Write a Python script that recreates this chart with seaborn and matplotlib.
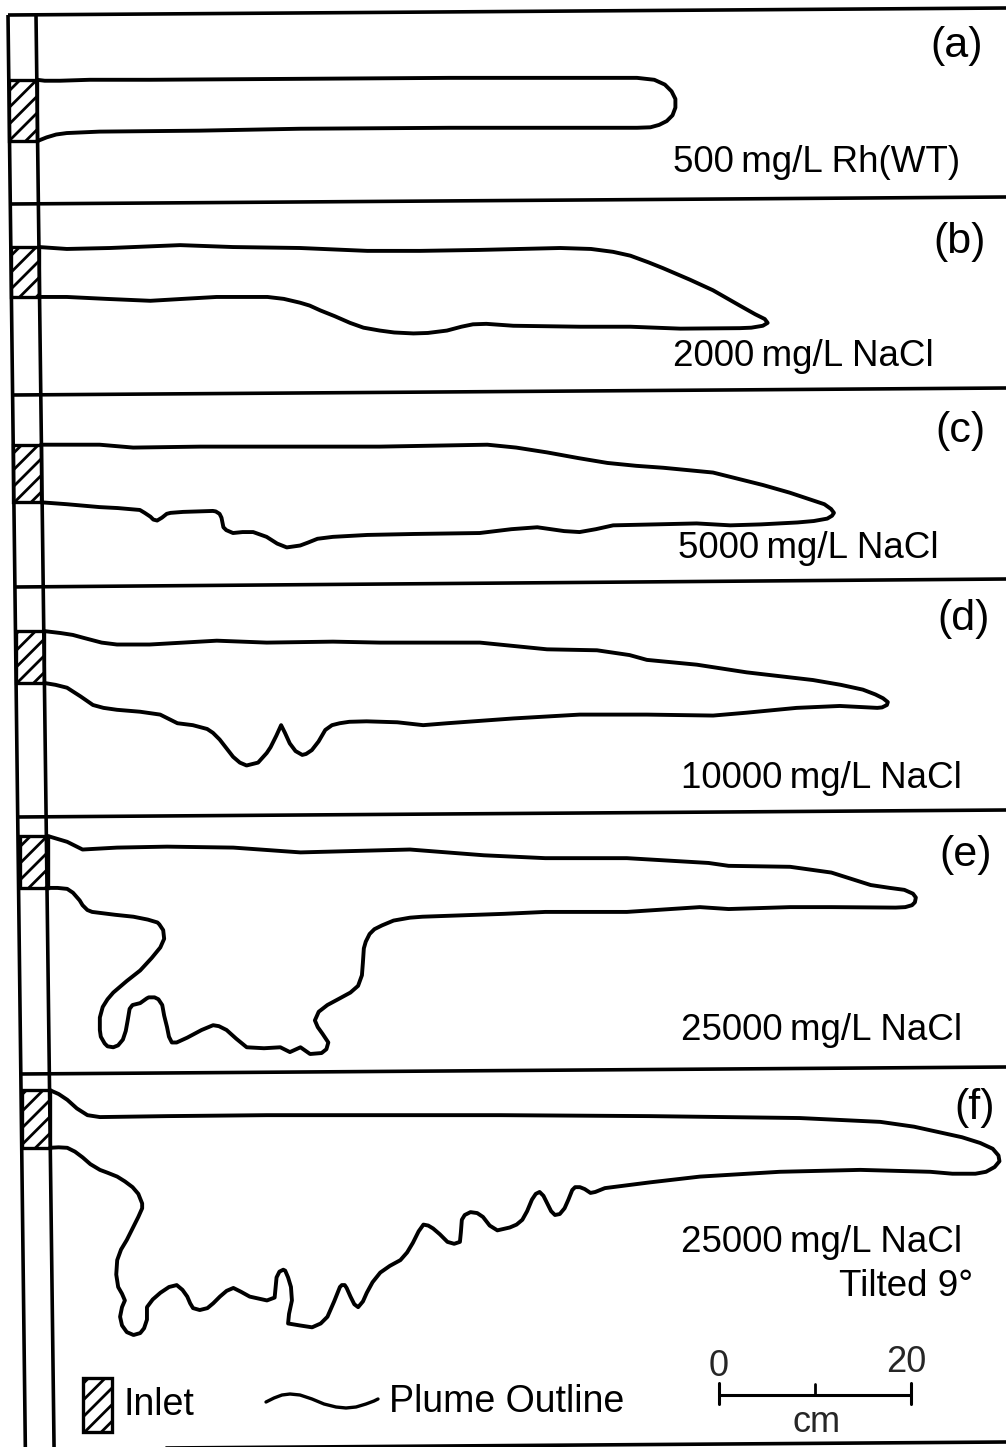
import numpy as np
import pandas as pd
import matplotlib
matplotlib.use("Agg")
import matplotlib.pyplot as plt
from matplotlib.patches import Rectangle
import seaborn as sns

# ---------------- data (cm): x = distance from inlet, y = depth below inlet centre ----------------
panel_letters = ["(a)", "(b)", "(c)", "(d)", "(e)", "(f)"]
panel_labels = ["500\u2009mg/L Rh(WT)", "2000\u2009mg/L NaCl", "5000\u2009mg/L NaCl",
                "10000\u2009mg/L NaCl", "25000\u2009mg/L NaCl", "25000\u2009mg/L NaCl"]
tilt_label = "Tilted 9°"
inlet_half_height = [3.2, 2.6, 3.0, 2.7, 2.7, 3.0]
inlet_width = 2.9

plume_a_x = [0.0, 0.8, 2.4, 5.5, 11.8, 27.4, 43.0, 58.6, 62.5, 64.3, 65.4, 66.1, 66.5, 66.5,
             66.2, 65.6, 64.8, 63.9, 62.5, 58.6, 43.0, 27.4, 16.9, 6.5, 3.1, 2.0, 1.0, 0.0]
plume_a_y = [-3.2, -3.1, -3.1, -3.2, -3.2, -3.3, -3.4, -3.4, -3.4, -3.2, -2.7, -2.0, -1.2, -0.3,
             0.5, 1.1, 1.5, 1.75, 1.8, 1.8, 1.8, 1.9, 2.1, 2.2, 2.35, 2.5, 2.8, 3.2]

plume_b_x = [0.0, 2.9, 7.4, 14.7, 20.2, 27.2, 34.2, 39.7, 45.9, 54.3, 57.5, 59.8, 61.6, 63.5,
             65.0, 67.8, 70.2, 73.0, 74.6, 75.6, 75.9, 75.4, 74.2, 73.0, 66.8, 61.6, 56.4, 49.4,
             46.6, 45.2, 44.0, 42.5, 40.5, 39.0, 37.0, 35.5, 33.8, 32.4, 30.8, 29.3, 28.2, 27.2,
             25.5, 23.8, 18.5, 15.0, 11.6, 7.0, 2.9, 0.0]
plume_b_y = [-2.6, -2.4, -2.5, -2.8, -2.6, -2.5, -2.2, -2.2, -2.3, -2.5, -2.4, -2.1, -1.7, -1.0,
             -0.4, 0.8, 1.9, 3.5, 4.4, 4.9, 5.3, 5.6, 5.8, 5.85, 5.9, 5.7, 5.7, 5.6,
             5.4, 5.45, 5.7, 6.1, 6.35, 6.4, 6.3, 6.1, 5.8, 5.3, 4.6, 4.0, 3.5, 3.2,
             2.8, 2.6, 2.6, 2.8, 3.0, 2.8, 2.6, 2.6]

plume_c_x = [0.0, 6.1, 9.6, 16.6, 27.0, 35.3, 46.5, 49.5, 52.7, 56.0, 59.0, 62.0, 64.8, 70.0,
             75.2, 78.0, 80.4, 81.6, 82.3, 82.6, 82.4, 81.9, 80.5, 78.8, 75.0, 71.8, 68.3, 64.0,
             59.6, 57.8, 56.1, 54.5, 51.7, 49.0, 45.7, 38.8, 34.0, 30.4, 28.8, 27.8, 27.0, 25.6,
             24.6, 23.5, 22.1, 21.0, 20.0, 19.3, 19.0, 18.8, 18.6, 18.2, 17.9, 14.8, 13.5, 13.1,
             12.6, 12.1, 11.7, 11.4, 10.8, 10.3, 8.0, 6.1, 2.7, 0.0]
plume_c_y = [-3.0, -3.0, -2.7, -2.8, -2.8, -2.8, -3.0, -2.7, -2.2, -1.6, -1.1, -0.8, -0.6, -0.1,
             1.2, 2.0, 2.8, 3.2, 3.7, 4.1, 4.4, 4.7, 4.95, 5.1, 5.3, 5.4, 5.2, 5.3,
             5.4, 5.8, 6.1, 6.0, 5.6, 5.8, 6.2, 6.3, 6.4, 6.6, 6.8, 7.2, 7.5, 7.7,
             7.3, 6.6, 6.1, 6.1, 6.2, 5.9, 5.6, 4.6, 4.2, 3.95, 3.9, 4.0, 4.1, 4.2,
             4.6, 4.9, 4.8, 4.5, 4.1, 3.8, 3.6, 3.5, 3.2, 3.0]

plume_d_x = [0.0, 1.7, 3.0, 4.1, 6.0, 7.6, 11.0, 18.0, 23.2, 30.1, 35.0, 45.4, 52.4, 57.6,
             61.0, 62.8, 68.0, 73.2, 80.1, 83.0, 85.3, 86.6, 87.4, 87.9, 87.8, 87.3, 86.8, 82.9,
             78.4, 73.2, 69.7, 62.8, 55.8, 48.9, 42.0, 39.5, 36.8, 33.6, 31.8, 30.8, 30.0, 29.3,
             28.6, 27.9, 27.3, 26.9, 26.2, 25.6, 25.1, 24.7, 24.2, 23.6, 23.2, 22.3, 21.1, 20.4,
             19.7, 19.0, 18.3, 17.6, 17.0, 15.5, 13.9, 12.9, 12.1, 10.0, 7.6, 6.2, 5.1, 3.8,
             2.4, 1.2, 0.0]
plume_d_y = [-2.7, -2.5, -2.3, -2.0, -1.5, -1.3, -1.3, -1.7, -1.5, -1.6, -1.5, -1.5, -0.8, -0.7,
             -0.2, 0.3, 0.8, 1.6, 2.4, 2.9, 3.4, 3.9, 4.3, 4.7, 5.0, 5.25, 5.3, 5.1,
             5.3, 5.8, 6.1, 6.0, 6.0, 6.4, 6.9, 7.1, 6.8, 6.7, 6.75, 6.9, 7.1, 7.6,
             8.8, 9.7, 10.1, 10.2, 9.8, 9.0, 7.9, 7.1, 8.2, 9.4, 10.0, 11.0, 11.3, 11.0,
             10.4, 9.5, 8.6, 7.9, 7.5, 7.1, 6.9, 6.4, 6.0, 5.7, 5.5, 5.3, 5.0, 4.1,
             3.2, 2.9, 2.7]

plume_e_x = [0.0, 2.0, 3.6, 7.2, 12.4, 19.3, 26.3, 37.7, 45.4, 51.8, 60.3, 68.8, 70.9, 77.3,
             81.6, 85.7, 87.7, 89.2, 90.1, 90.4, 90.3, 90.0, 89.3, 88.3, 81.6, 77.3, 70.9, 67.9,
             60.3, 51.8, 47.5, 39.0, 37.7, 36.0, 34.8, 34.0, 33.5, 33.1, 32.9, 32.8, 32.7, 32.3,
             31.5, 30.4, 29.1, 28.2, 27.8, 28.1, 28.6, 29.2, 29.0, 28.5, 27.3, 26.3, 25.2, 24.2,
             22.5, 20.7, 19.6, 18.6, 17.8, 17.2, 16.0, 14.5, 13.4, 12.9, 12.6, 12.4, 12.1, 11.9,
             11.5, 11.1, 10.5, 10.3, 9.6, 8.8, 8.5, 8.3, 8.1, 7.8, 7.3, 6.8, 6.2, 5.9,
             5.5, 5.4, 5.4, 5.7, 6.2, 6.8, 8.2, 9.6, 10.8, 11.7, 12.1, 12.0, 11.6, 11.4,
             10.4, 8.9, 7.0, 5.4, 4.6, 4.1, 3.6, 3.3, 2.6, 2.0, 1.0, 0.0]
plume_e_y = [-2.7, -2.1, -1.3, -1.5, -1.6, -1.5, -1.0, -1.3, -0.7, -0.4, -0.4, 0.1, 0.4, 0.5,
             1.1, 2.4, 2.7, 2.9, 3.3, 3.7, 4.2, 4.5, 4.7, 4.75, 4.7, 4.7, 4.9, 4.7,
             5.2, 5.2, 5.4, 5.7, 5.8, 6.1, 6.6, 7.0, 7.5, 8.3, 9.0, 10.5, 11.8, 12.9,
             13.6, 14.2, 14.9, 15.6, 16.5, 17.2, 17.9, 18.8, 19.5, 19.9, 20.0, 19.3, 19.8, 19.3,
             19.4, 19.3, 18.4, 17.5, 17.1, 17.0, 17.5, 18.3, 18.8, 18.8, 18.2, 17.2, 16.0, 14.9,
             14.3, 14.1, 14.1, 14.2, 14.7, 14.9, 15.3, 16.5, 17.6, 18.5, 19.1, 19.3, 19.2, 18.9,
             18.2, 17.5, 16.2, 15.1, 14.3, 13.6, 12.4, 11.3, 10.0, 8.9, 8.0, 7.1, 6.5, 6.3,
             6.0, 5.7, 5.5, 5.3, 5.2, 5.0, 4.5, 4.0, 3.2, 2.8, 2.7, 2.7]

plume_f_x = [0.0, 0.9, 1.8, 2.8, 3.9, 5.2, 12.2, 22.6, 36.5, 46.9, 62.5, 78.1, 86.5, 90.0,
             92.7, 95.0, 96.9, 98.2, 98.8, 98.9, 98.4, 97.5, 96.4, 94.0, 91.7, 84.4, 76.0, 67.7,
             62.5, 57.8, 56.8, 56.3, 55.7, 55.2, 54.7, 54.4, 54.0, 53.6, 53.1, 52.6, 52.2, 51.8,
             51.4, 51.0, 50.6, 50.2, 49.7, 49.2, 48.6, 47.9, 46.6, 45.8, 45.1, 44.5, 43.8, 43.2,
             42.9, 42.8, 42.7, 42.1, 41.4, 40.6, 39.9, 39.4, 38.9, 38.4, 37.8, 37.2, 36.5, 35.4,
             34.4, 33.6, 33.0, 32.6, 32.1, 31.7, 31.3, 30.9, 30.7, 30.4, 30.2, 29.6, 28.9, 28.2,
             27.3, 26.0, 24.8, 24.9, 25.2, 25.1, 24.8, 24.5, 24.3, 23.9, 23.6, 23.5, 23.4, 22.6,
             20.8, 19.9, 19.1, 18.4, 17.7, 17.0, 16.4, 15.6, 14.9, 14.6, 14.3, 13.8, 13.2, 12.4,
             11.5, 10.7, 10.1, 10.1, 10.1, 9.8, 9.4, 8.7, 8.0, 7.5, 7.3, 7.5, 7.8, 7.5,
             7.1, 6.9, 7.0, 7.4, 8.0, 8.6, 9.2, 9.6, 9.6, 9.2, 8.6, 7.8, 7.0, 6.0,
             5.2, 4.2, 3.4, 2.6, 1.8, 0.9, 0.0]
plume_f_y = [-3.0, -2.6, -2.0, -1.1, -0.4, -0.2, -0.3, -0.4, -0.4, -0.4, -0.3, -0.1, 0.3, 0.8,
             1.4, 1.9, 2.5, 3.1, 3.8, 4.4, 5.0, 5.5, 5.7, 5.7, 5.5, 5.3, 5.5, 6.0,
             6.6, 7.2, 7.6, 7.7, 7.3, 7.1, 7.1, 7.4, 8.4, 9.3, 9.9, 10.0, 9.6, 8.8,
             8.0, 7.6, 7.8, 8.4, 9.6, 10.5, 11.0, 11.3, 11.6, 11.1, 10.2, 9.8, 9.7, 10.0,
             10.5, 11.8, 12.8, 13.0, 12.8, 12.0, 11.4, 11.1, 11.0, 11.7, 12.9, 13.9, 14.7, 15.3,
             16.0, 17.0, 18.1, 19.0, 19.6, 19.3, 18.5, 17.6, 17.3, 17.3, 17.5, 19.0, 20.6, 21.3,
             21.7, 21.5, 21.3, 20.3, 18.9, 17.5, 16.5, 15.8, 15.7, 15.9, 16.5, 17.6, 18.6, 18.9,
             18.5, 18.0, 17.6, 17.9, 18.5, 19.2, 19.7, 19.9, 19.7, 19.2, 18.5, 17.8, 17.3, 17.5,
             18.1, 18.8, 19.6, 20.3, 20.9, 21.8, 22.3, 22.5, 22.2, 21.5, 20.6, 19.6, 18.9, 18.2,
             17.5, 16.2, 14.7, 13.6, 12.6, 11.4, 10.2, 9.3, 8.8, 7.8, 7.1, 6.5, 6.0, 5.6,
             5.3, 4.7, 4.0, 3.4, 3.0, 2.95, 3.0]

plumes_x = [plume_a_x, plume_b_x, plume_c_x, plume_d_x, plume_e_x, plume_f_x]
plumes_y = [plume_a_y, plume_b_y, plume_c_y, plume_d_y, plume_e_y, plume_f_y]

scale_bar_length = 20
scale_labels = ["0", "20"]
scale_unit = "cm"
legend_labels = ["Inlet", "Plume Outline"]

# ---------------- layout (pixels of the page) ----------------
W, H = 1006, 1447
PX_PER_CM = 9.6
origin_x = [37, 39, 41, 44, 48, 50]            # inlet right edge
origin_y = [110.5, 272, 473.5, 657, 862, 1119]  # inlet centre
letter_pos = [(983, 46), (986, 242), (986, 431), (990, 619), (992, 855), (995, 1108)]
label_pos = [(673, 163), (673, 357), (678, 549), (681, 778), (681, 1030), (681, 1243)]
sep_left = [204, 395, 587, 817, 1074]
sep_right = [197, 388, 579, 810, 1067]

sns.set_theme(style="white")
plt.rcParams["font.family"] = ["Liberation Sans", "DejaVu Sans"]
plt.rcParams["hatch.linewidth"] = 2.0
plt.rcParams["hatch.color"] = "black"

fig = plt.figure(figsize=(W / 100, H / 100), dpi=100)
fig.patch.set_facecolor("white")

bg = fig.add_axes([0, 0, 1, 1])
bg.set_xlim(0, W)
bg.set_ylim(H, 0)
bg.axis("off")

frame_kw = dict(color="black", lw=2.6, solid_capstyle="butt")


def outer_x(y):
    return 8 + (y - 15) * 0.0121


def inner_x(y):
    return 36 + (y - 15) * 0.0126


bg.plot([8, W], [15, 8], **frame_kw)
bg.plot([outer_x(15), outer_x(H)], [15, H], **frame_kw)
bg.plot([inner_x(15), inner_x(H)], [15, H], **frame_kw)
for yl, yr in zip(sep_left, sep_right):
    bg.plot([outer_x(yl), W], [yl, yr], **frame_kw)
bg.plot([outer_x(H), W], [1449, 1442], **frame_kw)

text_kw = dict(color="black")
for (lx, ly), t in zip(letter_pos, panel_letters):
    bg.text(lx, ly, t, ha="right", va="center", fontsize=31, **text_kw)
for (lx, ly), t in zip(label_pos, panel_labels):
    bg.text(lx, ly, t, ha="left", va="center", fontsize=26.5, **text_kw)
bg.text(973, 1287, tilt_label, ha="right", va="center", fontsize=26.5, **text_kw)

# legend
bg.add_patch(Rectangle((83, 1378), 29, 54, fill=False, hatch="//", lw=2.4, ec="black"))
bg.text(124, 1405, legend_labels[0], ha="left", va="center", fontsize=27, **text_kw)
wave_x = [266, 274, 282, 290, 300, 312, 324, 336, 346, 356, 366, 374, 378]
wave_y = [1402, 1398, 1395, 1394, 1395, 1399, 1404, 1407, 1408, 1407, 1404, 1401, 1399]
bg.plot(wave_x, wave_y, color="black", lw=2.4, solid_capstyle="round",
        solid_joinstyle="round")
bg.text(389, 1402, legend_labels[1], ha="left", va="center", fontsize=27, **text_kw)

# panels: each drawn in its own cm-scaled axes anchored at the inlet
for i in range(6):
    ox, oy = origin_x[i], origin_y[i]
    ax = fig.add_axes([0, 0, 1, 1], facecolor="none")
    ax.set_xlim(-ox / PX_PER_CM, (W - ox) / PX_PER_CM)
    ax.set_ylim((H - oy) / PX_PER_CM, -oy / PX_PER_CM)
    ax.axis("off")
    df = pd.DataFrame({"dist": plumes_x[i], "depth": plumes_y[i]})
    sns.lineplot(data=df, x="dist", y="depth", sort=False, estimator=None,
                 color="black", lw=2.8, ax=ax)
    for ln in ax.get_lines():
        ln.set_solid_joinstyle("round")
        ln.set_solid_capstyle("round")
    hh = inlet_half_height[i]
    ax.add_patch(Rectangle((-inlet_width, -hh), inlet_width, 2 * hh, fill=False,
                           hatch="//", lw=2.4, ec="black"))
    if i == 5:
        # scale bar
        bx0, by = 69.7, 28.75
        ax.plot([bx0, bx0 + scale_bar_length], [by, by], color="black", lw=2.2)
        for tx in [bx0, bx0 + scale_bar_length]:
            ax.plot([tx, tx], [by - 1.25, by + 0.9], color="black", lw=2.2)
        ax.plot([bx0 + scale_bar_length / 2] * 2, [by - 1.1, by], color="black", lw=2.0)
        ax.text(bx0, by - 3.0, scale_labels[0], ha="center", va="center", fontsize=26)
        ax.text(bx0 + scale_bar_length - 0.5, by - 3.4, scale_labels[1], ha="center",
                va="center", fontsize=26)
        ax.text(bx0 + 10.2, by + 2.9, scale_unit, ha="center", va="center", fontsize=26)

fig.savefig("out.png", dpi=100, facecolor="white")
